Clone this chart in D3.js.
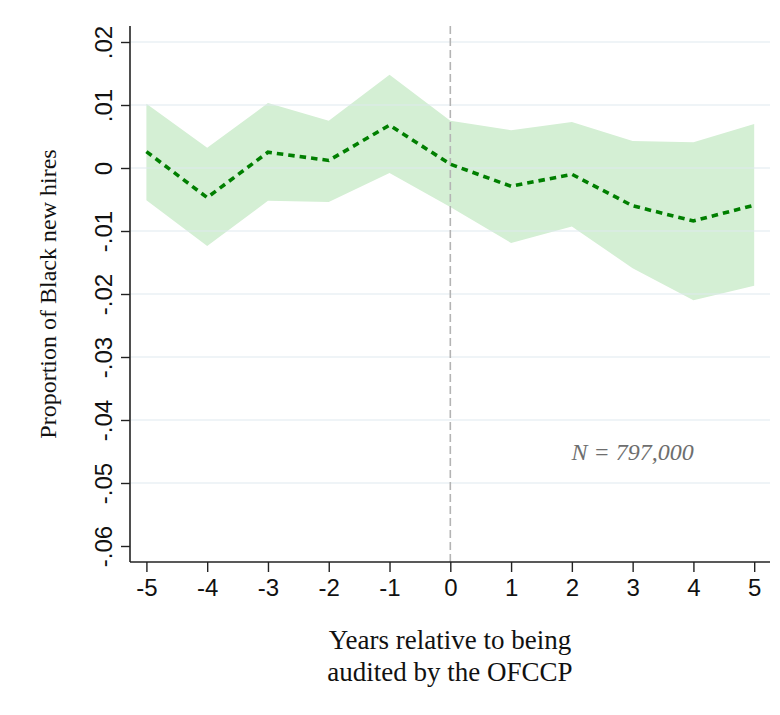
<!DOCTYPE html>
<html>
<head>
<meta charset="utf-8">
<script src="https://cdn.jsdelivr.net/npm/d3@7"></script>
<style>
  html, body { margin: 0; padding: 0; background: #fff; }
  svg { display: block; }
</style>
</head>
<body>
<svg id="chart" width="780" height="715"></svg>
<script>
// Event-study estimates: years relative to the OFCCP audit
const years = [-5, -4, -3, -2, -1, 0, 1, 2, 3, 4, 5];
const estimate = [0.0026, -0.0047, 0.0025, 0.0012, 0.0068, 0.0006, -0.0029, -0.0010, -0.0060, -0.0084, -0.0059];
const ciUpper = [0.0102, 0.0032, 0.0103, 0.0075, 0.0148, 0.0075, 0.0060, 0.0073, 0.0043, 0.0041, 0.0070];
const ciLower = [-0.0051, -0.0124, -0.0052, -0.0054, -0.0008, -0.0062, -0.0119, -0.0093, -0.0159, -0.0210, -0.0187];

const yTicks = [0.02, 0.01, 0, -0.01, -0.02, -0.03, -0.04, -0.05, -0.06];
const yTickLabels = [".02", ".01", "0", "-.01", "-.02", "-.03", "-.04", "-.05", "-.06"];
const gridTicks = [0.02, 0.01, 0, -0.01, -0.02, -0.03, -0.04, -0.05];
const xTicks = [-5, -4, -3, -2, -1, 0, 1, 2, 3, 4, 5];

const yTitle = "Proportion of Black new hires";
const xTitle = ["Years relative to being", "audited by the OFCCP"];
const note = "N = 797,000";

const svg = d3.select("#chart");
const plot = { left: 130, right: 770, top: 26, bottom: 562 };

const x = d3.scaleLinear().domain([-5.27, 5.26]).range([plot.left, plot.right]);
const y = d3.scaleLinear().domain([-0.06254, 0.02254]).range([plot.bottom, plot.top]);

const sans = "'Liberation Sans', Arial, Helvetica, sans-serif";
const serif = "'Liberation Serif', 'Times New Roman', Times, serif";

// confidence band
const rows = years.map((d, i) => ({ yr: d, est: estimate[i], lo: ciLower[i], hi: ciUpper[i] }));
svg.append("path")
  .datum(rows)
  .attr("fill", "#d4efd4")
  .attr("d", d3.area().x(d => x(d.yr)).y0(d => y(d.lo)).y1(d => y(d.hi)));

// horizontal gridlines
svg.append("g")
  .selectAll("line")
  .data(gridTicks)
  .join("line")
  .attr("x1", plot.left + 1)
  .attr("x2", plot.right)
  .attr("y1", d => y(d))
  .attr("y2", d => y(d))
  .attr("stroke", "#dde8ee")
  .attr("stroke-opacity", 0.65)
  .attr("stroke-width", 1.6);

// reference line at the audit year
svg.append("line")
  .attr("x1", x(0)).attr("x2", x(0))
  .attr("y1", plot.top).attr("y2", plot.bottom)
  .attr("stroke", "#b4b4b4")
  .attr("stroke-width", 1.6)
  .attr("stroke-dasharray", "8 4");

// point estimates
svg.append("path")
  .datum(rows)
  .attr("fill", "none")
  .attr("stroke", "#007f00")
  .attr("stroke-width", 3.6)
  .attr("stroke-dasharray", "6.5 5")
  .attr("d", d3.line().x(d => x(d.yr)).y(d => y(d.est)));

// y axis
const yAxis = svg.append("g")
  .attr("transform", `translate(${plot.left},0)`)
  .call(d3.axisLeft(y).tickValues(yTicks).tickSize(9).tickSizeOuter(0)
    .tickFormat((d, i) => yTickLabels[i]));
yAxis.select(".domain").attr("stroke", "#222").attr("stroke-width", 1.6)
  .attr("d", `M0,${plot.top}V${plot.bottom}`);
yAxis.selectAll(".tick line").attr("stroke", "#222").attr("stroke-width", 1.4);
yAxis.selectAll(".tick text")
  .style("font-family", sans)
  .style("font-size", "24px")
  .attr("fill", "#111")
  .attr("text-anchor", "middle")
  .attr("dy", null)
  .attr("x", null)
  .attr("transform", "translate(-27,0) rotate(-90)")
  .attr("dominant-baseline", "central");

// x axis
const xAxis = svg.append("g")
  .attr("transform", `translate(0,${plot.bottom})`)
  .call(d3.axisBottom(x).tickValues(xTicks).tickSize(10).tickSizeOuter(0)
    .tickFormat(d3.format("d")));
xAxis.select(".domain").attr("stroke", "#222").attr("stroke-width", 1.6)
  .attr("d", `M${plot.left},0H${plot.right}`);
xAxis.selectAll(".tick line").attr("stroke", "#222").attr("stroke-width", 1.4);
xAxis.selectAll(".tick text")
  .style("font-family", sans)
  .style("font-size", "24px")
  .attr("fill", "#111")
  .attr("y", 17)
  .attr("dy", "0.71em")
  .text(d => String(d).replace("\u2212", "-"));

// axis titles
svg.append("text")
  .attr("transform", `translate(56,${(plot.top + plot.bottom) / 2}) rotate(-90)`)
  .attr("text-anchor", "middle")
  .style("font-family", serif)
  .style("font-size", "24px")
  .attr("fill", "#111")
  .text(yTitle);

svg.append("text")
  .attr("text-anchor", "middle")
  .style("font-family", serif)
  .style("font-size", "27px")
  .attr("fill", "#111")
  .selectAll("tspan")
  .data(xTitle)
  .join("tspan")
  .attr("x", 450)
  .attr("y", (d, i) => 649 + i * 32)
  .text(d => d);

// sample size note
svg.append("text")
  .attr("x", x(3))
  .attr("y", 460)
  .attr("text-anchor", "middle")
  .style("font-family", serif)
  .style("font-style", "italic")
  .style("font-size", "24px")
  .attr("fill", "#6e6e6e")
  .text(note);
</script>
</body>
</html>
